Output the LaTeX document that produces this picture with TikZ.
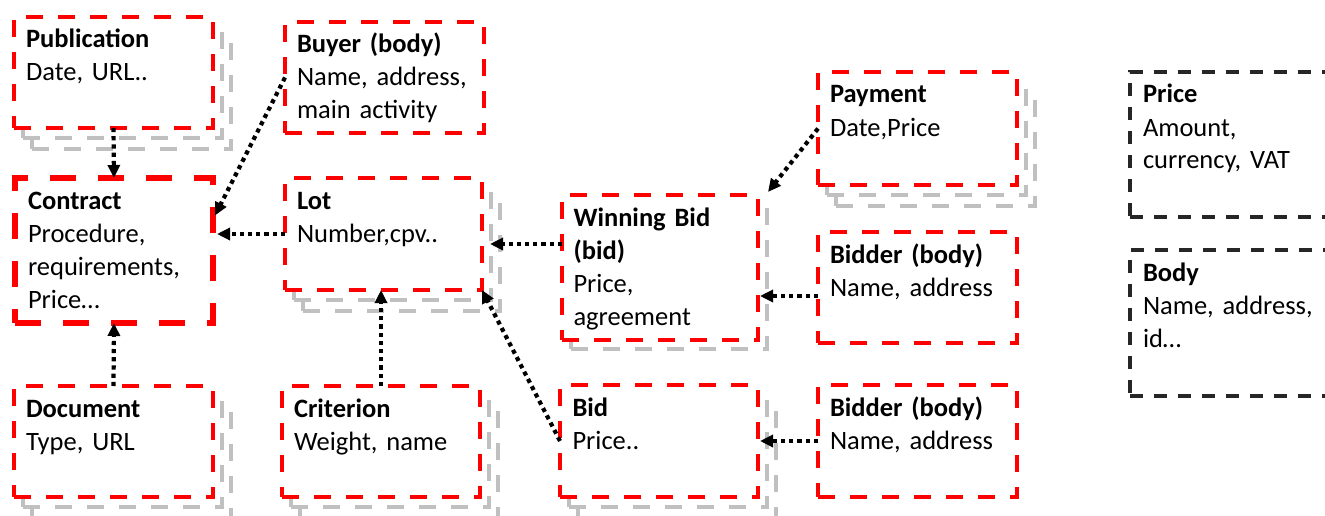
\documentclass[tikz,border=0pt]{standalone}
\usepackage{fontspec}
\setmainfont{Carlito}
\usepackage{xcolor}
\usepackage{tikz}
\definecolor{entityRed}{RGB}{255, 0, 0}
\definecolor{shadowGray}{RGB}{192, 192, 192}
\definecolor{typeBlack}{RGB}{38, 38, 38}
\usetikzlibrary{arrows.meta, shadows}

\begin{document}
\begin{tikzpicture}[
    x=1pt, y=-1pt,
    entity/.style={rectangle, draw=entityRed, fill=white, line width=3.6pt, dash pattern=on 17pt off 15pt, anchor=north west, outer sep=0pt, text width=175pt, inner xsep=12pt, inner ysep=9pt, align=left, text height=22pt, text depth=#1, font=\fontsize{26.5pt}{33pt}\selectfont},
    datatype/.style={entity=#1, draw=typeBlack, dash pattern=on 13pt off 11pt, text width=196pt, inner xsep=13pt},
    stack/.style={copy shadow={shadow xshift=18pt, shadow yshift=-21pt, draw=shadowGray, fill=white}, copy shadow={shadow xshift=9pt, shadow yshift=-10pt, draw=shadowGray, fill=white}},
    single/.style={copy shadow={shadow xshift=9pt, shadow yshift=-9pt, draw=shadowGray, fill=white}},
    link/.style={-{Triangle[length=13pt, width=12pt]}, line width=4.2pt, dash pattern=on 4.2pt off 4pt}
]
    \path[use as bounding box, clip] (0,0) rectangle (1325,516);

    % Entities
    \node[entity=71pt, stack] (publication) at (14,17) {\textbf{Publication}\\Date, URL..};
    \node[entity=105pt, line width=6.5pt, dash pattern=on 26pt off 22pt, text width=172pt, inner xsep=13pt] (contract) at (15,178) {\textbf{Contract}\\Procedure,\\requirements,\\Price…};
    \node[entity=71pt, stack] (document) at (14,386) {\textbf{Document}\\Type, URL};
    \node[entity=71pt] (buyer) at (285,22) {\textbf{Buyer (body)}\\Name, address,\\main activity};
    \node[entity=72pt, stack, text width=173pt] (lot) at (285,178) {\textbf{Lot}\\Number,cpv..};
    \node[entity=71pt, stack, text width=174pt] (criterion) at (282,386) {\textbf{Criterion}\\Weight, name};
    \node[entity=105pt, single, text width=173pt, inner xsep=11.5pt] (winning) at (562,195) {\textbf{Winning Bid}\\\textbf{(bid)}\\Price,\\agreement};
    \node[entity=72pt, stack, text width=173pt, inner xsep=12.5pt] (bid) at (560,385) {\textbf{Bid}\\Price..};
    \node[entity=73pt, stack] (payment) at (818,72) {\textbf{Payment}\\Date,Price};
    \node[entity=71pt] (bidderwin) at (818,232) {\textbf{Bidder (body)}\\Name, address};
    \node[entity=72pt] (bidderbid) at (818,385) {\textbf{Bidder (body)}\\Name, address};

    % Data types
    \node[datatype=105pt] (price) at (1130,72) {\textbf{Price}\\Amount,\\currency, VAT};
    \node[datatype=106pt] (body) at (1130,250) {\textbf{Body}\\Name, address,\\id…};

    % Connections
    \draw[link] (publication.south) -- (contract.north);
    \draw[link] (buyer.west) -- ([xshift=2pt, yshift=35pt]contract.east);
    \draw[link] (lot.west) -- ([xshift=4pt]contract.east |- lot.west);
    \draw[link] (document.north) -- (contract.south);
    \draw[link] ([yshift=23.5pt]winning.west) -- ([xshift=8pt, yshift=-10pt]lot.east);
    \draw[link] (criterion.north) -- (criterion.north |- lot.south);
    \draw[link] (bid.west) -- (lot.south east);
    \draw[link] (payment.west) -- ([xshift=10pt, yshift=3pt]winning.north east);
    \draw[link] ([yshift=-8.5pt]bidderwin.west) -- ([xshift=2pt, yshift=-28.5pt]winning.east);
    \draw[link] (bidderbid.west) -- ([xshift=2pt]bid.east |- bidderbid.west);
\end{tikzpicture}
\end{document}
